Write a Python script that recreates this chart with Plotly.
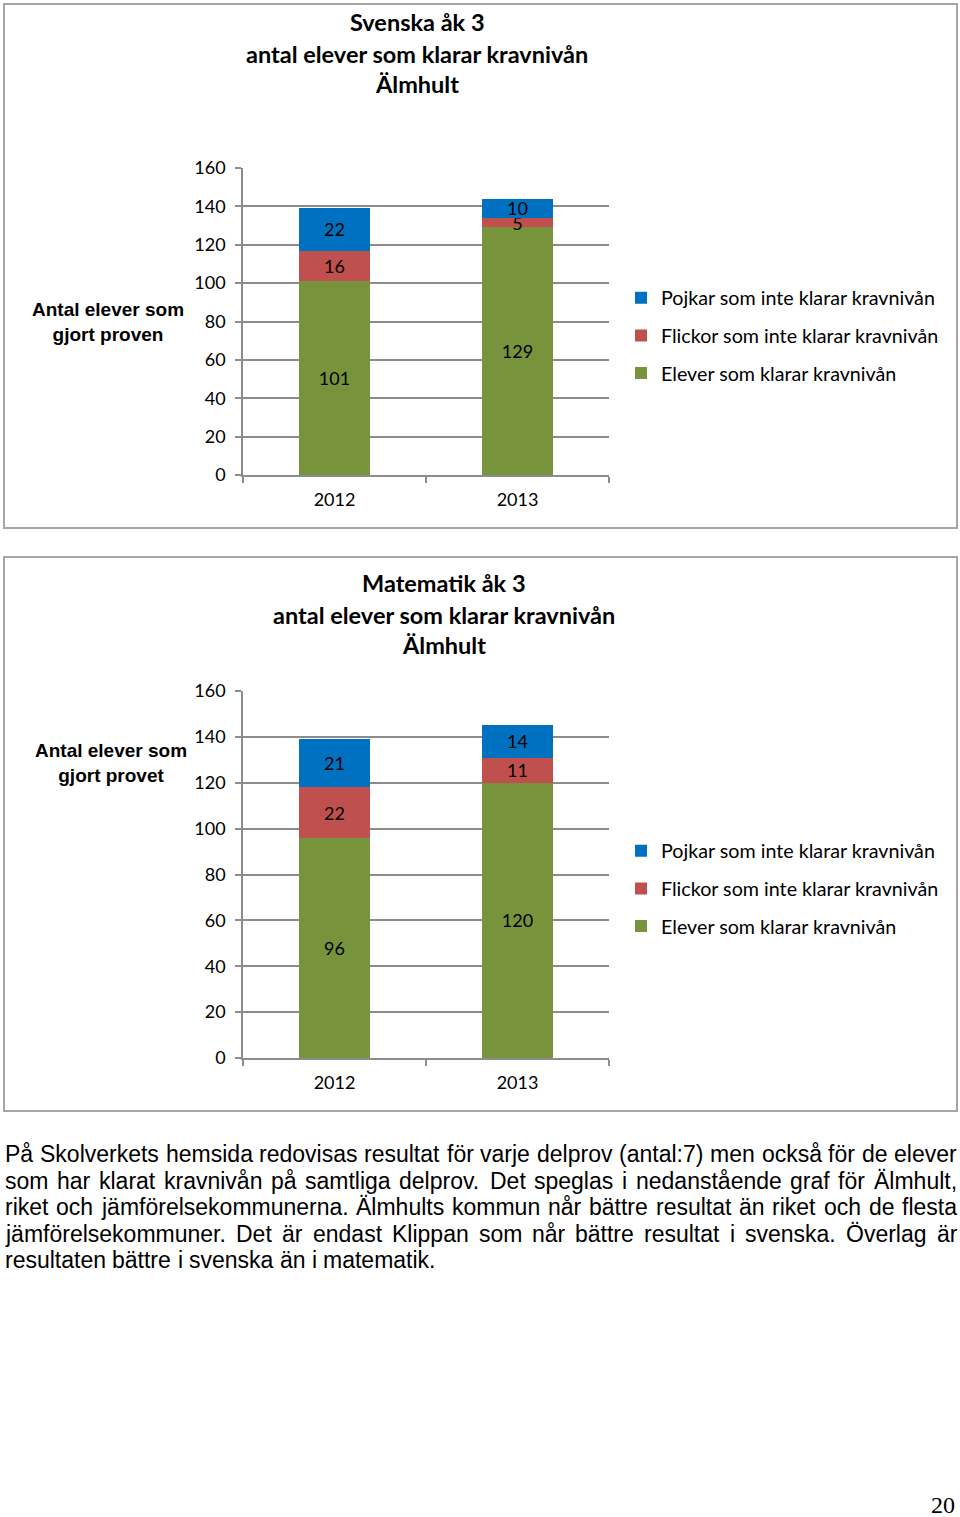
import plotly.graph_objects as go

# ---------------- data ----------------
years = ["2012", "2013"]
series_names = ["Elever som klarar kravnivån",
                "Flickor som inte klarar kravnivån",
                "Pojkar som inte klarar kravnivån"]
svenska_klarar = [101, 129]
svenska_flickor_ej = [16, 5]
svenska_pojkar_ej = [22, 10]
matte_klarar = [96, 120]
matte_flickor_ej = [22, 11]
matte_pojkar_ej = [21, 14]
y_ticks = [0, 20, 40, 60, 80, 100, 120, 140, 160]

title_svenska = ["Svenska åk 3", "antal elever som klarar kravnivån", "Älmhult"]
title_matte = ["Matematik åk 3", "antal elever som klarar kravnivån", "Älmhult"]
ytitle_svenska = "Antal elever som<br>gjort proven"
ytitle_matte = "Antal elever som<br>gjort provet"

paragraph_lines = [
    "På Skolverkets hemsida redovisas resultat för varje delprov (antal:7) men också för de elever",
    "som har klarat kravnivån på samtliga delprov. Det speglas i nedanstående graf för Älmhult,",
    "riket och jämförelsekommunerna. Älmhults kommun når bättre resultat än riket och de flesta",
    "jämförelsekommuner. Det är endast Klippan som når bättre resultat i svenska. Överlag är",
    "resultaten bättre i svenska än i matematik.",
]
page_number = "20"

colors = ["#77933C", "#C0504D", "#0070C0"]
legend_ranks = [3, 2, 1]

# ---------------- layout helpers ----------------
W, H = 960, 1517


def px(x):
    return x / W


def py(y):
    return 1 - y / H


GRID = "#8C8C8C"
FONT = "Lato"

fig = go.Figure()

charts = [
    dict(vals=[svenska_klarar, svenska_flickor_ej, svenska_pojkar_ej], xa="x", ya="y", legend="legend"),
    dict(vals=[matte_klarar, matte_flickor_ej, matte_pojkar_ej], xa="x2", ya="y2", legend="legend2"),
]

for ci, ch in enumerate(charts):
    for si, (name, vals) in enumerate(zip(series_names, ch["vals"])):
        fig.add_trace(go.Bar(
            x=years, y=vals, name=name,
            marker=dict(color=colors[si], line=dict(width=0)),
            text=[str(v) for v in vals],
            textposition="inside", insidetextanchor="middle",
            textangle=0, constraintext="none",
            textfont=dict(family=FONT, size=18, color="black"),
            insidetextfont=dict(family=FONT, size=18, color="black"),
            xaxis=ch["xa"], yaxis=ch["ya"],
            legend=ch["legend"], legendgroup=f"c{ci}s{si}",
            legendrank=legend_ranks[si],
            hoverinfo="skip",
        ))

axis_common_x = dict(
    type="category", range=[-0.5, 1.5], domain=[px(243), px(609)],
    showline=True, linecolor=GRID, linewidth=1.5,
    ticks="outside", tickson="boundaries", ticklen=6, tickcolor=GRID, tickwidth=1.5,
    tickfont=dict(family=FONT, size=18, color="black"),
    showgrid=False, zeroline=False, fixedrange=True, ticklabelstandoff=8,
)
axis_common_y = dict(
    range=[0, 160], tickvals=y_ticks,
    showline=True, linecolor=GRID, linewidth=1.5,
    ticks="outside", ticklen=6, tickcolor=GRID, tickwidth=1.5,
    tickfont=dict(family=FONT, size=18, color="black"),
    showgrid=True, gridcolor=GRID, gridwidth=1.5,
    zeroline=False, fixedrange=True, ticklabelstandoff=6,
)

legend_common = dict(
    xanchor="left", yanchor="top",
    font=dict(family=FONT, size=19.7, color="black"),
    traceorder="grouped", tracegroupgap=9,
    bgcolor="rgba(0,0,0,0)",
)

fig.update_layout(
    width=W, height=H,
    margin=dict(l=0, r=0, t=0, b=0, autoexpand=False),
    paper_bgcolor="white", plot_bgcolor="white",
    barmode="stack", bargap=0.607,
    xaxis=dict(anchor="y", **axis_common_x),
    yaxis=dict(anchor="x", domain=[py(475), py(168)], **axis_common_y),
    xaxis2=dict(anchor="y2", **axis_common_x),
    yaxis2=dict(anchor="x2", domain=[py(1058), py(691)], **axis_common_y),
    legend=dict(x=px(621), y=py(278.5), **legend_common),
    legend2=dict(x=px(621), y=py(831.5), **legend_common),
    showlegend=True,
)

# chart boxes
for (y0, y1) in [(4, 528), (557, 1111)]:
    fig.add_shape(type="rect", xref="paper", yref="paper",
                  x0=px(4), x1=px(957), y0=py(y1), y1=py(y0),
                  line=dict(color="#A6A6A6", width=2), layer="below")

annotations = []

# chart titles
for lines, cx, ys in [(title_svenska, 417, [22, 54, 84]), (title_matte, 444, [583, 615, 645])]:
    for line, yy in zip(lines, ys):
        annotations.append(dict(
            xref="paper", yref="paper", x=px(cx), y=py(yy),
            xanchor="center", yanchor="middle", showarrow=False,
            text=f"<b>{line}</b>",
            font=dict(family=FONT, size=23.5, color="black"),
        ))

# y axis titles (horizontal)
for txt, cx, cy in [(ytitle_svenska, 108, 322), (ytitle_matte, 111, 763)]:
    annotations.append(dict(
        xref="paper", yref="paper", x=px(cx), y=py(cy),
        xanchor="center", yanchor="middle", showarrow=False,
        text=f"<b>{txt}</b>", align="center",
        font=dict(family="Liberation Sans", size=19, color="black"),
    ))

# paragraph: justified word placement using Arial (Liberation Sans) metrics
ARIAL = {' ': 278, ',': 278, '.': 278, ':': 278, '(': 333, ')': 333,
         'a': 556, 'b': 556, 'c': 500, 'd': 556, 'e': 556, 'f': 278, 'g': 556, 'h': 556,
         'i': 222, 'j': 222, 'k': 500, 'l': 222, 'm': 833, 'n': 556, 'o': 556, 'p': 556,
         'q': 556, 'r': 333, 's': 500, 't': 278, 'u': 556, 'v': 500, 'w': 722, 'x': 500,
         'y': 500, 'z': 500, 'A': 667, 'B': 667, 'C': 722, 'D': 722, 'E': 667, 'F': 611,
         'G': 778, 'H': 722, 'I': 278, 'J': 500, 'K': 667, 'L': 556, 'M': 833, 'N': 722,
         'O': 778, 'P': 667, 'Q': 778, 'R': 722, 'S': 667, 'T': 611, 'U': 722, 'V': 667,
         'W': 944, 'X': 667, 'Y': 667, 'Z': 611, 'å': 556, 'ä': 556, 'ö': 556,
         'Å': 667, 'Ä': 667, 'Ö': 778}
PSIZE = 23


def tw(s):
    return sum(ARIAL.get(c, 556) for c in s) / 1000 * PSIZE


x_left, x_right = 4, 956
for i, line in enumerate(paragraph_lines):
    words = line.split(" ")
    widths = [tw(w) for w in words]
    yy = 1154 + i * 26.5
    if i < len(paragraph_lines) - 1:
        gap = (x_right - x_left - sum(widths)) / (len(words) - 1)
    else:
        gap = tw(" ")
    xx = x_left
    for w, wd in zip(words, widths):
        annotations.append(dict(
            xref="paper", yref="paper", x=px(xx), y=py(yy),
            xanchor="left", yanchor="middle", showarrow=False,
            text=w, borderpad=0,
            font=dict(family="Liberation Sans", size=PSIZE, color="black"),
        ))
        xx += wd + gap

annotations.append(dict(
    xref="paper", yref="paper", x=px(956), y=py(1505),
    xanchor="right", yanchor="middle", showarrow=False,
    text=page_number, borderpad=0,
    font=dict(family="Liberation Serif", size=24, color="black"),
))

fig.update_layout(annotations=annotations)

fig.write_html("out.html", config={"displayModeBar": False},
               post_script="document.body.style.margin='0px';")
